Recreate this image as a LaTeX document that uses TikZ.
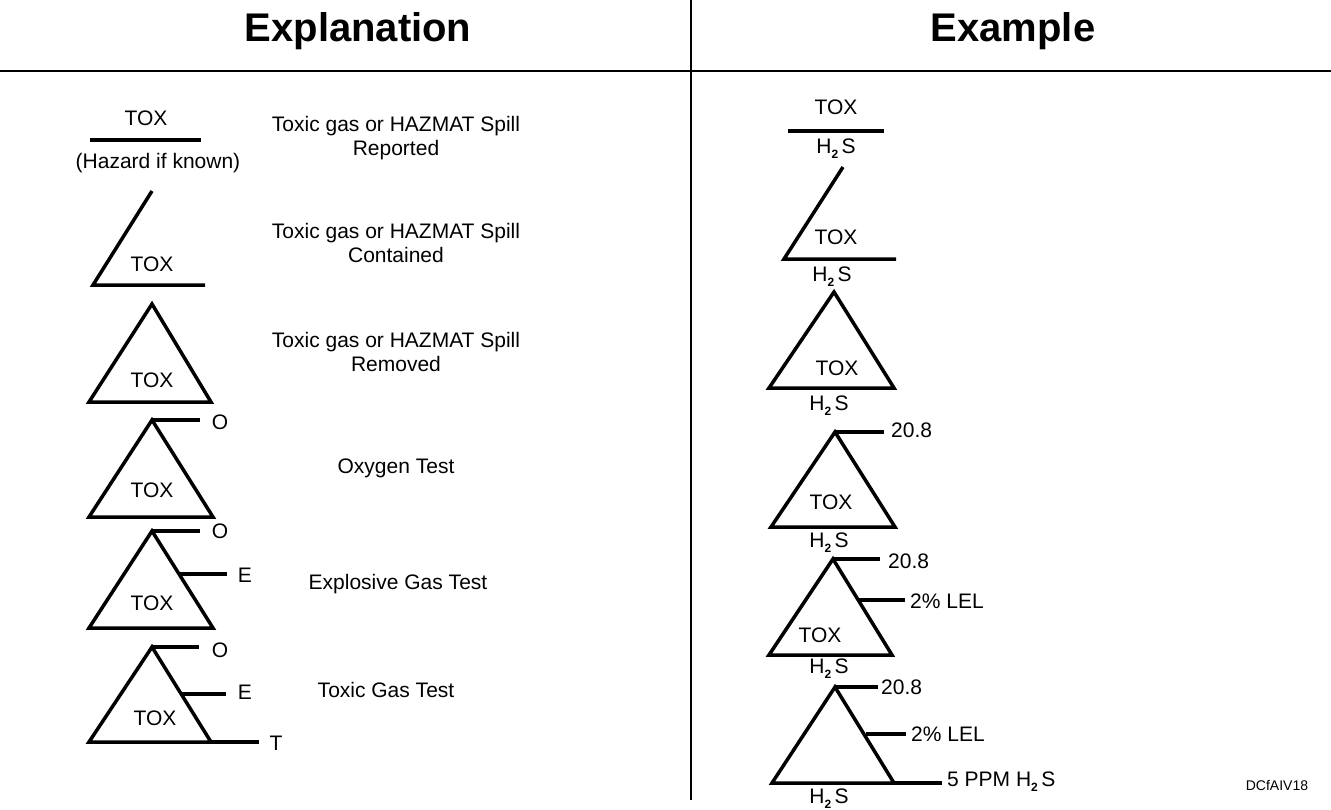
\documentclass[tikz,border=0pt]{standalone}
\usepackage{fontspec}
\setmainfont{Liberation Sans}
\newcommand\hts{H\raisebox{-0.45ex}{\fontsize{12}{12}\selectfont\bfseries 2}\,S}
\tikzset{
  sym/.style={line width=3.5pt, line join=miter, line cap=butt},
  rule/.style={line width=1.2pt},
  lbl/.style={font=\fontsize{21}{23}\selectfont, inner sep=0pt},
  desc/.style={font=\fontsize{21}{24}\selectfont, inner sep=0pt, align=center},
  ttl/.style={font=\fontsize{40}{44}\selectfont\bfseries, inner sep=0pt}
}
\begin{document}
\begin{tikzpicture}[x=1pt,y=-1pt]
\useasboundingbox (0,0) rectangle (1331,809);
% headers
\node[ttl] (t1) at (358,31) {Explanation};
\node[ttl] (t2) at (1013,31) {Example};
\draw[rule] (0,71) -- (1331,71);
\draw[rule] (691,0) -- (691,800);

% ---------- LEFT ----------
% row 1
\node[lbl] (l1t) at (146,118) {TOX};
\draw[sym] (90,140) -- (201,140);
\node[lbl] (l1h) at (158,163) {(Hazard if known)};
\node[desc] (d1) at (396,138) {Toxic gas or HAZMAT Spill\\Reported};
% row 2
\draw[sym] (152,191) -- (93,285) -- (205,285);
\node[lbl] (l2t) at (152,264) {TOX};
\node[desc] (d2) at (396,243) {Toxic gas or HAZMAT Spill\\Contained};
% row 3
\draw[sym] (152,304) -- (89,402) -- (211,402) -- cycle;
\node[lbl] (l3t) at (152,380) {TOX};
\node[desc] (d3) at (396,352) {Toxic gas or HAZMAT Spill\\Removed};
% row 4
\draw[sym] (152,420) -- (89,517) -- (213,517) -- cycle;
\draw[sym] (152,420) -- (200,420);
\node[lbl] (l4o) at (220,422) {O};
\node[lbl] (l4t) at (152,490) {TOX};
\node[desc] (d4) at (396,468) {Oxygen Test};
% row 5
\draw[sym] (152,531) -- (89,628) -- (213,628) -- cycle;
\draw[sym] (152,531) -- (200,531);
\draw[sym] (180,574) -- (227,574);
\node[lbl] (l5o) at (220,531) {O};
\node[lbl] (l5e) at (245,575) {E};
\node[lbl] (l5t) at (152,603) {TOX};
\node[desc] (d5) at (398,584) {Explosive Gas Test};
% row 6
\draw[sym] (152,647) -- (89,742) -- (211,742) -- cycle;
\draw[sym] (152,647) -- (199,647);
\draw[sym] (182,694) -- (226,694);
\draw[sym] (211,742) -- (259,742);
\node[lbl] (l6o) at (220,650) {O};
\node[lbl] (l6e) at (245,692) {E};
\node[lbl] (l6x) at (276,743) {T};
\node[lbl] (l6t) at (155,718) {TOX};
\node[desc] (d6) at (386,690) {Toxic Gas Test};

% ---------- RIGHT ----------
% row 1
\node[lbl] (r1t) at (836,107) {TOX};
\draw[sym] (788,131) -- (884,131);
\node[lbl] (r1h) at (836,149) {\hts};
% row 2
\draw[sym] (843,167) -- (784,259) -- (896,259);
\node[lbl] (r2t) at (836,237) {TOX};
\node[lbl] (r2h) at (832,277) {\hts};
% row 3
\draw[sym] (834,292) -- (769,388) -- (894,388) -- cycle;
\node[lbl] (r3t) at (837,368) {TOX};
\node[lbl] (r3h) at (829,406) {\hts};
% row 4
\draw[sym] (835,432) -- (771,527) -- (895,527) -- cycle;
\draw[sym] (835,432) -- (884,432);
\node[lbl, anchor=west] (r4o) at (891,430) {20.8};
\node[lbl] (r4t) at (831,502) {TOX};
\node[lbl] (r4h) at (829,543) {\hts};
% row 5
\draw[sym] (833,559) -- (769,655) -- (892,655) -- cycle;
\draw[sym] (833,559) -- (880,559);
\draw[sym] (859,600) -- (905,600);
\node[lbl, anchor=west] (r5o) at (888,561) {20.8};
\node[lbl, anchor=west] (r5e) at (910,601) {2\% LEL};
\node[lbl] (r5t) at (820,635) {TOX};
\node[lbl] (r5h) at (829,669) {\hts};
% row 6
\draw[sym] (835,687) -- (772,783) -- (894,783) -- cycle;
\draw[sym] (835,687) -- (878,687);
\draw[sym] (866,734) -- (906,734);
\draw[sym] (894,783) -- (942,783);
\node[lbl, anchor=west] (r6o) at (881,687) {20.8};
\node[lbl, anchor=west] (r6e) at (911,734) {2\% LEL};
\node[lbl, anchor=west] (r6x) at (947,782) {5 PPM \hts};
\node[lbl] (r6h) at (829,799) {\hts};
\node[lbl, font=\fontsize{14}{16}\selectfont] (code) at (1277,785) {DCfAIV18};
\end{tikzpicture}
\end{document}
